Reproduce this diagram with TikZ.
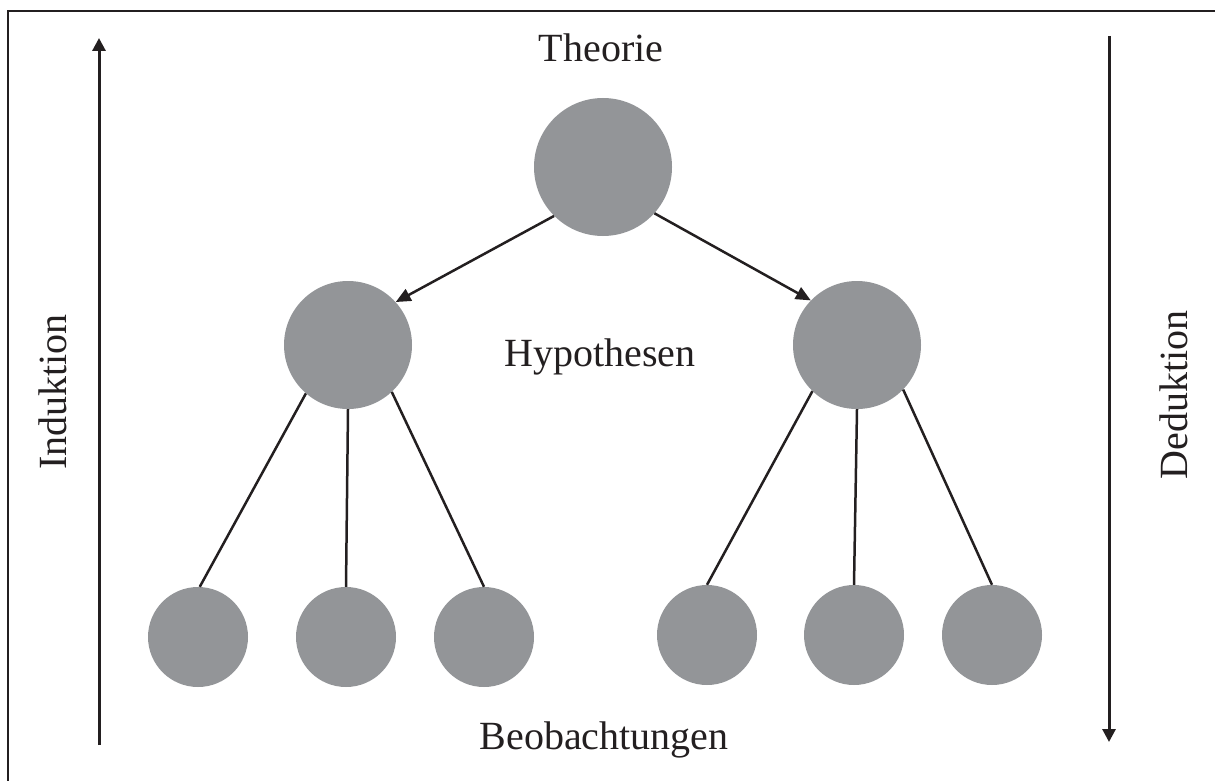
\documentclass[tikz,border=0pt]{standalone}
\usepackage{fontspec}
\setmainfont{Liberation Serif}
\usetikzlibrary{arrows.meta}
\definecolor{dotgrey}{RGB}{147,149,152}
\definecolor{ink}{RGB}{35,31,32}
\begin{document}
\begin{tikzpicture}[x=1pt,y=-1pt,
  blob/.style={circle,fill=dotgrey,inner sep=0pt,minimum size=#1},
  lbl/.style={font=\fontsize{40}{48}\selectfont,inner sep=0pt,anchor=base,text=ink},
  tie/.style={line width=2.5pt,draw=ink},
  flow/.style={line width=2.5pt,draw=ink,-{Triangle[length=15pt,width=13pt]}},
  axisarrow/.style={line width=3pt,draw=ink,-{Triangle[length=13pt,width=13pt]}}]
\useasboundingbox (0,0) rectangle (1215,781);

% outer frame (left and top edges)
\draw[line width=2pt,ink] (8,781) |- (1215,11);

% tree of circles
\node[blob=138pt] (t)  at (603,167) {};
\node[blob=128pt] (h1) at (348,345) {};
\node[blob=128pt] (h2) at (857,345) {};
\node[blob=100pt] (b1) at (198,637) {};
\node[blob=100pt] (b2) at (346,637) {};
\node[blob=100pt] (b3) at (484,637) {};
\node[blob=100pt] (b4) at (707,635) {};
\node[blob=100pt] (b5) at (854,635) {};
\node[blob=100pt] (b6) at (992,635) {};

% connectors
\draw[flow] (t.225) -- (h1.42);
\draw[flow] (t.318) -- (h2.136);
\draw[tie] (h1.229) -- (b1.88);
\draw[tie] (h1.270) -- (b2.90);
\draw[tie] (h1.313) -- (b3.90);
\draw[tie] (h2.226) -- (b4.90);
\draw[tie] (h2.270) -- (b5.90);
\draw[tie] (h2.316) -- (b6.90);

% labels
\node[lbl] (theorie) at (601,62) {Theorie};
\node[lbl] (hyp) at (600,366) {Hypothesen};
\node[lbl] (beob) at (604,749) {Beobachtungen};
\node[lbl,rotate=90] (ind) at (66,392) {Induktion};
\node[lbl,rotate=90] (ded) at (1187,395) {Deduktion};

% side arrows
\coordinate (indlo) at (99,745);
\coordinate (indhi) at (99,38);
\coordinate (dedhi) at (1109,36);
\coordinate (dedlo) at (1109,742);
\draw[axisarrow] (indlo) -- (indhi);
\draw[axisarrow] (dedhi) -- (dedlo);
\end{tikzpicture}
\end{document}
